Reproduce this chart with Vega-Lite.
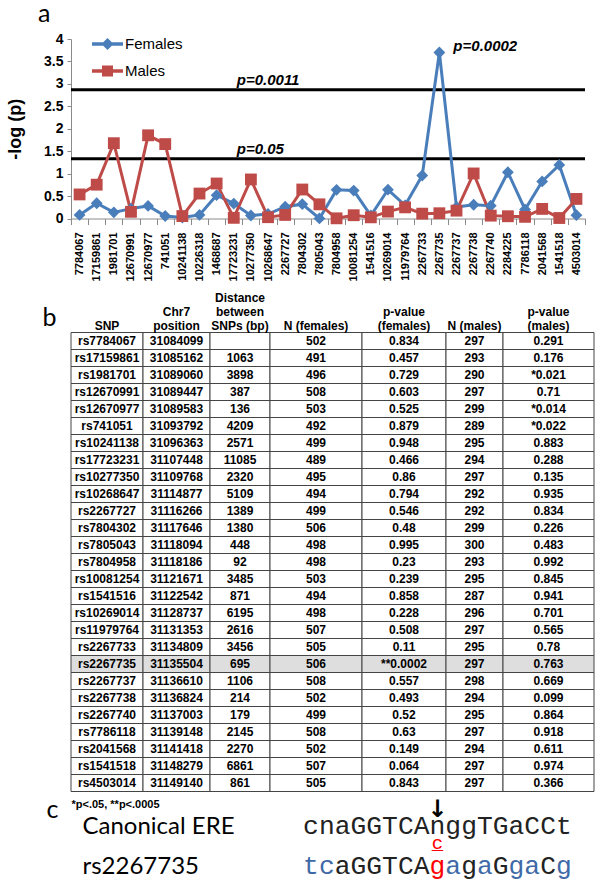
{
  "$schema": "https://vega.github.io/schema/vega-lite/v6.json",
  "autosize": {"type": "none"},
  "padding": {"left": 71, "top": 39, "right": 530, "bottom": 843},
  "background": "white",
  "bounds": "flush",
  "spacing": 113.5,
  "datasets": {
    "chart": [
      {"snp": "7784067", "sex": "Females", "logp": 0.079},
      {"snp": "17159861", "sex": "Females", "logp": 0.340},
      {"snp": "1981701", "sex": "Females", "logp": 0.137},
      {"snp": "12670991", "sex": "Females", "logp": 0.220},
      {"snp": "12670977", "sex": "Females", "logp": 0.280},
      {"snp": "741051", "sex": "Females", "logp": 0.056},
      {"snp": "10241138", "sex": "Females", "logp": 0.023},
      {"snp": "10226318", "sex": "Females", "logp": 0.08},
      {"snp": "1468687", "sex": "Females", "logp": 0.52},
      {"snp": "17723231", "sex": "Females", "logp": 0.332},
      {"snp": "10277350", "sex": "Females", "logp": 0.066},
      {"snp": "10268647", "sex": "Females", "logp": 0.100},
      {"snp": "2267727", "sex": "Females", "logp": 0.263},
      {"snp": "7804302", "sex": "Females", "logp": 0.319},
      {"snp": "7805043", "sex": "Females", "logp": 0.002},
      {"snp": "7804958", "sex": "Females", "logp": 0.638},
      {"snp": "10081254", "sex": "Females", "logp": 0.622},
      {"snp": "1541516", "sex": "Females", "logp": 0.067},
      {"snp": "10269014", "sex": "Females", "logp": 0.642},
      {"snp": "11979764", "sex": "Females", "logp": 0.294},
      {"snp": "2267733", "sex": "Females", "logp": 0.959},
      {"snp": "2267735", "sex": "Females", "logp": 3.699},
      {"snp": "2267737", "sex": "Females", "logp": 0.254},
      {"snp": "2267738", "sex": "Females", "logp": 0.307},
      {"snp": "2267740", "sex": "Females", "logp": 0.284},
      {"snp": "2284225", "sex": "Females", "logp": 1.03},
      {"snp": "7786118", "sex": "Females", "logp": 0.201},
      {"snp": "2041568", "sex": "Females", "logp": 0.827},
      {"snp": "1541518", "sex": "Females", "logp": 1.194},
      {"snp": "4503014", "sex": "Females", "logp": 0.074},
      {"snp": "7784067", "sex": "Males", "logp": 0.536},
      {"snp": "17159861", "sex": "Males", "logp": 0.754},
      {"snp": "1981701", "sex": "Males", "logp": 1.678},
      {"snp": "12670991", "sex": "Males", "logp": 0.149},
      {"snp": "12670977", "sex": "Males", "logp": 1.854},
      {"snp": "741051", "sex": "Males", "logp": 1.658},
      {"snp": "10241138", "sex": "Males", "logp": 0.054},
      {"snp": "10226318", "sex": "Males", "logp": 0.556},
      {"snp": "1468687", "sex": "Males", "logp": 0.78},
      {"snp": "17723231", "sex": "Males", "logp": 0.015},
      {"snp": "10277350", "sex": "Males", "logp": 0.870},
      {"snp": "10268647", "sex": "Males", "logp": 0.029},
      {"snp": "2267727", "sex": "Males", "logp": 0.079},
      {"snp": "7804302", "sex": "Males", "logp": 0.646},
      {"snp": "7805043", "sex": "Males", "logp": 0.316},
      {"snp": "7804958", "sex": "Males", "logp": 0.004},
      {"snp": "10081254", "sex": "Males", "logp": 0.073},
      {"snp": "1541516", "sex": "Males", "logp": 0.026},
      {"snp": "10269014", "sex": "Males", "logp": 0.154},
      {"snp": "11979764", "sex": "Males", "logp": 0.248},
      {"snp": "2267733", "sex": "Males", "logp": 0.108},
      {"snp": "2267735", "sex": "Males", "logp": 0.117},
      {"snp": "2267737", "sex": "Males", "logp": 0.175},
      {"snp": "2267738", "sex": "Males", "logp": 1.004},
      {"snp": "2267740", "sex": "Males", "logp": 0.064},
      {"snp": "2284225", "sex": "Males", "logp": 0.05},
      {"snp": "7786118", "sex": "Males", "logp": 0.037},
      {"snp": "2041568", "sex": "Males", "logp": 0.214},
      {"snp": "1541518", "sex": "Males", "logp": 0.011},
      {"snp": "4503014", "sex": "Males", "logp": 0.436}
    ],
    "thresholds": [
      {"label": "p=0.0011", "logp": 2.87, "snp": "17723231"},
      {"label": "p=0.05", "logp": 1.33, "snp": "17723231"}
    ],
    "peak": [
      {"label": "p=0.0002", "logp": 3.699, "snp": "2267735"}
    ],
    "table": [
      {"snp": "rs7784067", "pos": "31084099", "dist": "", "nf": "502", "pf": "0.834", "nm": "297", "pm": "0.291"},
      {"snp": "rs17159861", "pos": "31085162", "dist": "1063", "nf": "491", "pf": "0.457", "nm": "293", "pm": "0.176"},
      {"snp": "rs1981701", "pos": "31089060", "dist": "3898", "nf": "496", "pf": "0.729", "nm": "290", "pm": "*0.021"},
      {"snp": "rs12670991", "pos": "31089447", "dist": "387", "nf": "508", "pf": "0.603", "nm": "297", "pm": "0.71"},
      {"snp": "rs12670977", "pos": "31089583", "dist": "136", "nf": "503", "pf": "0.525", "nm": "299", "pm": "*0.014"},
      {"snp": "rs741051", "pos": "31093792", "dist": "4209", "nf": "492", "pf": "0.879", "nm": "289", "pm": "*0.022"},
      {"snp": "rs10241138", "pos": "31096363", "dist": "2571", "nf": "499", "pf": "0.948", "nm": "295", "pm": "0.883"},
      {"snp": "rs17723231", "pos": "31107448", "dist": "11085", "nf": "489", "pf": "0.466", "nm": "294", "pm": "0.288"},
      {"snp": "rs10277350", "pos": "31109768", "dist": "2320", "nf": "495", "pf": "0.86", "nm": "297", "pm": "0.135"},
      {"snp": "rs10268647", "pos": "31114877", "dist": "5109", "nf": "494", "pf": "0.794", "nm": "292", "pm": "0.935"},
      {"snp": "rs2267727", "pos": "31116266", "dist": "1389", "nf": "499", "pf": "0.546", "nm": "292", "pm": "0.834"},
      {"snp": "rs7804302", "pos": "31117646", "dist": "1380", "nf": "506", "pf": "0.48", "nm": "299", "pm": "0.226"},
      {"snp": "rs7805043", "pos": "31118094", "dist": "448", "nf": "498", "pf": "0.995", "nm": "300", "pm": "0.483"},
      {"snp": "rs7804958", "pos": "31118186", "dist": "92", "nf": "498", "pf": "0.23", "nm": "293", "pm": "0.992"},
      {"snp": "rs10081254", "pos": "31121671", "dist": "3485", "nf": "503", "pf": "0.239", "nm": "295", "pm": "0.845"},
      {"snp": "rs1541516", "pos": "31122542", "dist": "871", "nf": "494", "pf": "0.858", "nm": "287", "pm": "0.941"},
      {"snp": "rs10269014", "pos": "31128737", "dist": "6195", "nf": "498", "pf": "0.228", "nm": "296", "pm": "0.701"},
      {"snp": "rs11979764", "pos": "31131353", "dist": "2616", "nf": "507", "pf": "0.508", "nm": "297", "pm": "0.565"},
      {"snp": "rs2267733", "pos": "31134809", "dist": "3456", "nf": "505", "pf": "0.11", "nm": "295", "pm": "0.78"},
      {"snp": "rs2267735", "pos": "31135504", "dist": "695", "nf": "506", "pf": "**0.0002", "nm": "297", "pm": "0.763"},
      {"snp": "rs2267737", "pos": "31136610", "dist": "1106", "nf": "508", "pf": "0.557", "nm": "298", "pm": "0.669"},
      {"snp": "rs2267738", "pos": "31136824", "dist": "214", "nf": "502", "pf": "0.493", "nm": "294", "pm": "0.099"},
      {"snp": "rs2267740", "pos": "31137003", "dist": "179", "nf": "499", "pf": "0.52", "nm": "295", "pm": "0.864"},
      {"snp": "rs7786118", "pos": "31139148", "dist": "2145", "nf": "508", "pf": "0.63", "nm": "297", "pm": "0.918"},
      {"snp": "rs2041568", "pos": "31141418", "dist": "2270", "nf": "502", "pf": "0.149", "nm": "294", "pm": "0.611"},
      {"snp": "rs1541518", "pos": "31148279", "dist": "6861", "nf": "507", "pf": "0.064", "nm": "297", "pm": "0.974"},
      {"snp": "rs4503014", "pos": "31149140", "dist": "861", "nf": "505", "pf": "0.843", "nm": "297", "pm": "0.366"}
    ],
    "seq": [
      {"row": "Canonical ERE", "i": 1, "ch": "c", "tone": "plain"},
      {"row": "Canonical ERE", "i": 2, "ch": "n", "tone": "plain"},
      {"row": "Canonical ERE", "i": 3, "ch": "a", "tone": "plain"},
      {"row": "Canonical ERE", "i": 4, "ch": "G", "tone": "plain"},
      {"row": "Canonical ERE", "i": 5, "ch": "G", "tone": "plain"},
      {"row": "Canonical ERE", "i": 6, "ch": "T", "tone": "plain"},
      {"row": "Canonical ERE", "i": 7, "ch": "C", "tone": "plain"},
      {"row": "Canonical ERE", "i": 8, "ch": "A", "tone": "plain"},
      {"row": "Canonical ERE", "i": 9, "ch": "n", "tone": "plain"},
      {"row": "Canonical ERE", "i": 10, "ch": "g", "tone": "plain"},
      {"row": "Canonical ERE", "i": 11, "ch": "g", "tone": "plain"},
      {"row": "Canonical ERE", "i": 12, "ch": "T", "tone": "plain"},
      {"row": "Canonical ERE", "i": 13, "ch": "G", "tone": "plain"},
      {"row": "Canonical ERE", "i": 14, "ch": "a", "tone": "plain"},
      {"row": "Canonical ERE", "i": 15, "ch": "C", "tone": "plain"},
      {"row": "Canonical ERE", "i": 16, "ch": "C", "tone": "plain"},
      {"row": "Canonical ERE", "i": 17, "ch": "t", "tone": "plain"},
      {"row": "rs2267735", "i": 1, "ch": "t", "tone": "mm"},
      {"row": "rs2267735", "i": 2, "ch": "c", "tone": "mm"},
      {"row": "rs2267735", "i": 3, "ch": "a", "tone": "plain"},
      {"row": "rs2267735", "i": 4, "ch": "G", "tone": "plain"},
      {"row": "rs2267735", "i": 5, "ch": "G", "tone": "plain"},
      {"row": "rs2267735", "i": 6, "ch": "T", "tone": "plain"},
      {"row": "rs2267735", "i": 7, "ch": "C", "tone": "plain"},
      {"row": "rs2267735", "i": 8, "ch": "A", "tone": "plain"},
      {"row": "rs2267735", "i": 9, "ch": "g", "tone": "snp"},
      {"row": "rs2267735", "i": 10, "ch": "a", "tone": "mm"},
      {"row": "rs2267735", "i": 11, "ch": "g", "tone": "plain"},
      {"row": "rs2267735", "i": 12, "ch": "a", "tone": "mm"},
      {"row": "rs2267735", "i": 13, "ch": "G", "tone": "plain"},
      {"row": "rs2267735", "i": 14, "ch": "g", "tone": "mm"},
      {"row": "rs2267735", "i": 15, "ch": "a", "tone": "mm"},
      {"row": "rs2267735", "i": 16, "ch": "C", "tone": "plain"},
      {"row": "rs2267735", "i": 17, "ch": "g", "tone": "mm"}
    ],
    "arrow": [{"row": "Canonical ERE", "i": 9, "ch": "↓"}],
    "variant": [
      {"row": "rs2267735", "i": 9, "ch": "c"},
      {"row": "rs2267735", "i": 9, "ch": "_"}
    ]
  },
  "vconcat": [
    {
      "width": 514,
      "height": 179.5,
      "title": {"text": "a", "anchor": "start", "frame": "group", "font": "Lato", "fontSize": 25, "fontWeight": "normal", "color": "black", "dx": -33, "dy": 26, "offset": 6, "baseline": "bottom"},
      "encoding": {
        "y": {
          "field": "logp", "type": "quantitative",
          "scale": {"domain": [0, 4], "nice": false, "zero": true},
          "axis": {
            "title": "-log (p)", "values": [0, 0.5, 1, 1.5, 2, 2.5, 3, 3.5, 4], "format": ".1~f", "grid": false, "labelOverlap": false,
            "labelFont": "Liberation Sans", "labelFontSize": 14, "labelFontWeight": "bold", "labelColor": "black", "labelPadding": 4,
            "tickSize": 4, "tickColor": "#8a8a8a", "domainColor": "#8a8a8a",
            "titleFont": "Liberation Sans", "titleFontSize": 18, "titleFontWeight": "bold", "titleColor": "black",
            "titleX": -56, "titleY": 89.75, "titleAngle": 270, "titleAlign": "center", "titleBaseline": "middle"
          }
        }
      },
      "layer": [
        {
          "data": {"name": "thresholds"},
          "mark": {"type": "rule", "color": "black", "strokeWidth": 3}
        },
        {
          "data": {"name": "thresholds"},
          "mark": {"type": "text", "align": "left", "baseline": "alphabetic", "dx": 3, "dy": -5, "font": "Liberation Sans", "fontSize": 15, "fontWeight": "bold", "fontStyle": "italic", "color": "black"},
          "encoding": {
            "x": {"field": "snp", "type": "nominal"},
            "text": {"field": "label", "type": "nominal"}
          }
        },
        {
          "data": {"name": "chart"},
          "mark": {"type": "line", "strokeWidth": 3},
          "encoding": {
            "x": {
              "field": "snp", "type": "nominal", "sort": null,
              "scale": {"type": "band", "paddingInner": 0, "paddingOuter": 0, "domain": ["7784067","17159861","1981701","12670991","12670977","741051","10241138","10226318","1468687","17723231","10277350","10268647","2267727","7804302","7805043","7804958","10081254","1541516","10269014","11979764","2267733","2267735","2267737","2267738","2267740","2284225","7786118","2041568","1541518","4503014"]},
              "axis": {
                "title": "b", "labelAngle": 270, "labelFont": "Liberation Sans", "labelFontSize": 11, "labelFontWeight": "bold", "labelColor": "black", "labelPadding": 7.5, "labelOverlap": false, "labelLimit": 0,
                "tickSize": 6, "tickBand": "extent", "tickColor": "#8a8a8a", "domainColor": "#8a8a8a", "grid": false,
                "titleX": -29, "titleY": 106.5, "titleAngle": 0, "titleAlign": "left", "titleBaseline": "alphabetic", "titleFont": "Lato", "titleFontSize": 25, "titleFontWeight": "normal", "titleColor": "black"
              }
            },
            "stroke": {"field": "sex", "type": "nominal", "scale": {"range": ["#4a7ebb", "#be4b48"]}, "legend": null}
          }
        },
        {
          "data": {"name": "chart"},
          "transform": [{"filter": "datum.sex === 'Females'"}],
          "mark": {"type": "point", "shape": "diamond", "filled": true, "size": 140, "color": "#4a7ebb", "opacity": 1},
          "encoding": {
            "x": {"field": "snp", "type": "nominal", "sort": null}
          }
        },
        {
          "data": {"name": "chart"},
          "transform": [{"filter": "datum.sex === 'Males'"}],
          "mark": {"type": "point", "shape": "square", "filled": true, "size": 140, "color": "#be4b48", "opacity": 1},
          "encoding": {
            "x": {"field": "snp", "type": "nominal", "sort": null}
          }
        },
        {
          "data": {"name": "peak"},
          "mark": {"type": "text", "align": "left", "baseline": "alphabetic", "dx": 14, "dy": -2, "font": "Liberation Sans", "fontSize": 15, "fontWeight": "bold", "fontStyle": "italic", "color": "black"},
          "encoding": {
            "x": {"field": "snp", "type": "nominal"},
            "text": {"field": "label", "type": "nominal"}
          }
        },
        {
          "data": {"name": "chart"},
          "transform": [{"filter": "datum.sex === 'none'"}],
          "mark": {"type": "point", "filled": true, "strokeWidth": 0, "size": 240},
          "encoding": {
            "x": {"field": "snp", "type": "nominal", "sort": null},
            "fill": {
              "field": "sex", "type": "nominal",
              "scale": {"domain": ["Females", "Males"], "range": ["#4a7ebb", "#be4b48"]},
              "legend": {"orient": "none", "legendX": 28.5, "legendY": -3, "title": null, "padding": 0, "symbolSize": 240, "symbolStrokeWidth": 0, "symbolOpacity": 1, "labelFont": "Liberation Sans", "labelFontSize": 15, "labelColor": "black", "labelOffset": 9.5, "rowPadding": 11}
            },
            "shape": {
              "field": "sex", "type": "nominal",
              "scale": {"domain": ["Females", "Males"], "range": ["M-2,-0.226H2V0.226H-2ZM0,-0.78L0.78,0L0,0.78L-0.78,0Z", "M-2,-0.226H2V0.226H-2ZM-0.71,-0.71H0.71V0.71H-0.71Z"]},
              "legend": {"orient": "none", "legendX": 28.5, "legendY": -3, "title": null, "padding": 0, "symbolSize": 240, "symbolStrokeWidth": 0, "symbolOpacity": 1, "labelFont": "Liberation Sans", "labelFontSize": 15, "labelColor": "black", "labelOffset": 9.5, "rowPadding": 11}
            }
          }
        }
      ]
    },
    {
      "bounds": "flush",
      "spacing": 501,
      "vconcat": [
        {
          "bounds": "flush",
          "spacing": 0,
          "hconcat": [
            {
              "width": 72, "height": 459,
              "title": {"text": "SNP", "anchor": "middle", "frame": "group", "font": "Liberation Sans", "fontSize": 12, "fontWeight": "bold", "color": "black", "lineHeight": 14, "baseline": "bottom", "offset": 1, "dy": 14},
              "data": {"name": "table"},
              "encoding": {"y": {"field": "snp", "type": "nominal", "sort": null, "axis": null, "scale": {"paddingInner": 0, "paddingOuter": 0}}},
              "layer": [
                {"mark": {"type": "rect", "stroke": "#444444", "strokeWidth": 1}, "encoding": {"fill": {"condition": {"test": "datum.snp === 'rs2267735'", "value": "#dedede"}, "value": "white"}}},
                {"mark": {"type": "text", "font": "Liberation Sans", "fontSize": 12, "fontWeight": "bold", "color": "black"}, "encoding": {"text": {"field": "snp", "type": "nominal"}}}
              ]
            },
            {
              "width": 67, "height": 459,
              "title": {"text": ["Chr7", "position"], "anchor": "middle", "frame": "group", "font": "Liberation Sans", "fontSize": 12, "fontWeight": "bold", "color": "black", "lineHeight": 14, "baseline": "bottom", "offset": 1, "dy": 14},
              "data": {"name": "table"},
              "encoding": {"y": {"field": "snp", "type": "nominal", "sort": null, "axis": null, "scale": {"paddingInner": 0, "paddingOuter": 0}}},
              "layer": [
                {"mark": {"type": "rect", "stroke": "#444444", "strokeWidth": 1}, "encoding": {"fill": {"condition": {"test": "datum.snp === 'rs2267735'", "value": "#dedede"}, "value": "white"}}},
                {"mark": {"type": "text", "font": "Liberation Sans", "fontSize": 12, "fontWeight": "bold", "color": "black"}, "encoding": {"text": {"field": "pos", "type": "nominal"}}}
              ]
            },
            {
              "width": 60, "height": 459,
              "title": {"text": ["Distance", "between", "SNPs  (bp)"], "anchor": "middle", "frame": "group", "font": "Liberation Sans", "fontSize": 12, "fontWeight": "bold", "color": "black", "lineHeight": 14, "baseline": "bottom", "offset": 1, "dy": 14},
              "data": {"name": "table"},
              "encoding": {"y": {"field": "snp", "type": "nominal", "sort": null, "axis": null, "scale": {"paddingInner": 0, "paddingOuter": 0}}},
              "layer": [
                {"mark": {"type": "rect", "stroke": "#444444", "strokeWidth": 1}, "encoding": {"fill": {"condition": {"test": "datum.snp === 'rs2267735'", "value": "#dedede"}, "value": "white"}}},
                {"mark": {"type": "text", "font": "Liberation Sans", "fontSize": 12, "fontWeight": "bold", "color": "black"}, "encoding": {"text": {"field": "dist", "type": "nominal"}}}
              ]
            },
            {
              "width": 92, "height": 459,
              "title": {"text": "N (females)", "anchor": "middle", "frame": "group", "font": "Liberation Sans", "fontSize": 12, "fontWeight": "bold", "color": "black", "lineHeight": 14, "baseline": "bottom", "offset": 1, "dy": 14},
              "data": {"name": "table"},
              "encoding": {"y": {"field": "snp", "type": "nominal", "sort": null, "axis": null, "scale": {"paddingInner": 0, "paddingOuter": 0}}},
              "layer": [
                {"mark": {"type": "rect", "stroke": "#444444", "strokeWidth": 1}, "encoding": {"fill": {"condition": {"test": "datum.snp === 'rs2267735'", "value": "#dedede"}, "value": "white"}}},
                {"mark": {"type": "text", "font": "Liberation Sans", "fontSize": 12, "fontWeight": "bold", "color": "black"}, "encoding": {"text": {"field": "nf", "type": "nominal"}}}
              ]
            },
            {
              "width": 84, "height": 459,
              "title": {"text": ["p-value", "(females)"], "anchor": "middle", "frame": "group", "font": "Liberation Sans", "fontSize": 12, "fontWeight": "bold", "color": "black", "lineHeight": 14, "baseline": "bottom", "offset": 1, "dy": 14},
              "data": {"name": "table"},
              "encoding": {"y": {"field": "snp", "type": "nominal", "sort": null, "axis": null, "scale": {"paddingInner": 0, "paddingOuter": 0}}},
              "layer": [
                {"mark": {"type": "rect", "stroke": "#444444", "strokeWidth": 1}, "encoding": {"fill": {"condition": {"test": "datum.snp === 'rs2267735'", "value": "#dedede"}, "value": "white"}}},
                {"mark": {"type": "text", "font": "Liberation Sans", "fontSize": 12, "fontWeight": "bold", "color": "black"}, "encoding": {"text": {"field": "pf", "type": "nominal"}}}
              ]
            },
            {
              "width": 57, "height": 459,
              "title": {"text": "N (males)", "anchor": "middle", "frame": "group", "font": "Liberation Sans", "fontSize": 12, "fontWeight": "bold", "color": "black", "lineHeight": 14, "baseline": "bottom", "offset": 1, "dy": 14},
              "data": {"name": "table"},
              "encoding": {"y": {"field": "snp", "type": "nominal", "sort": null, "axis": null, "scale": {"paddingInner": 0, "paddingOuter": 0}}},
              "layer": [
                {"mark": {"type": "rect", "stroke": "#444444", "strokeWidth": 1}, "encoding": {"fill": {"condition": {"test": "datum.snp === 'rs2267735'", "value": "#dedede"}, "value": "white"}}},
                {"mark": {"type": "text", "font": "Liberation Sans", "fontSize": 12, "fontWeight": "bold", "color": "black"}, "encoding": {"text": {"field": "nm", "type": "nominal"}}}
              ]
            },
            {
              "width": 91, "height": 459,
              "title": {"text": ["p-value", "(males)"], "anchor": "middle", "frame": "group", "font": "Liberation Sans", "fontSize": 12, "fontWeight": "bold", "color": "black", "lineHeight": 14, "baseline": "bottom", "offset": 1, "dy": 14},
              "data": {"name": "table"},
              "encoding": {"y": {"field": "snp", "type": "nominal", "sort": null, "axis": null, "scale": {"paddingInner": 0, "paddingOuter": 0}}},
              "layer": [
                {"mark": {"type": "rect", "stroke": "#444444", "strokeWidth": 1}, "encoding": {"fill": {"condition": {"test": "datum.snp === 'rs2267735'", "value": "#dedede"}, "value": "white"}}},
                {"mark": {"type": "text", "font": "Liberation Sans", "fontSize": 12, "fontWeight": "bold", "color": "black"}, "encoding": {"text": {"field": "pm", "type": "nominal"}}}
              ]
            }
          ]
        },
        {
          "width": 523,
          "height": 40,
          "encoding": {
            "x": {
              "field": "i", "type": "quantitative",
              "scale": {"domain": [-14.19, 18.91], "nice": false, "zero": false},
              "axis": {"orient": "top", "labels": false, "ticks": false, "domain": false, "grid": false, "title": "*p<.05, **p<.0005", "titleX": 0, "titleY": -26, "titleAngle": 0, "titleAlign": "left", "titleBaseline": "alphabetic", "titleFont": "Liberation Sans", "titleFontSize": 11, "titleFontWeight": "bold", "titleColor": "black"}
            },
            "y": {
              "field": "row", "type": "nominal",
              "scale": {"type": "point", "padding": 0, "domain": ["Canonical ERE", "rs2267735"]},
              "axis": {"labelAlign": "left", "labelPadding": -11, "ticks": false, "tickSize": 0, "domain": false, "grid": false, "labelFont": "Lato", "labelFontSize": 24, "labelColor": "black", "labelBaseline": "alphabetic", "labelLimit": 0, "title": "c", "titleX": -25, "titleY": -16, "titleAngle": 0, "titleAlign": "left", "titleBaseline": "alphabetic", "titleFont": "Lato", "titleFontSize": 25, "titleFontWeight": "normal", "titleColor": "black"}
            }
          },
          "layer": [
            {
              "data": {"name": "seq"},
              "mark": {"type": "text", "font": "Liberation Mono", "fontSize": 26.3, "baseline": "alphabetic", "align": "center"},
              "encoding": {
                "text": {"field": "ch", "type": "nominal"},
                "color": {"field": "tone", "type": "nominal", "scale": {"domain": ["plain", "mm", "snp"], "range": ["#222222", "#3f6aa7", "#ff0000"]}, "legend": null}
              }
            },
            {
              "data": {"name": "arrow"},
              "mark": {"type": "text", "font": "DejaVu Sans", "fontSize": 24, "fontWeight": "bold", "baseline": "alphabetic", "align": "center", "dy": -17, "color": "black"},
              "encoding": {"text": {"field": "ch", "type": "nominal"}}
            },
            {
              "data": {"name": "variant"},
              "mark": {"type": "text", "font": "Liberation Mono", "fontSize": 19, "baseline": "alphabetic", "align": "center", "dy": -25, "color": "#ff0000"},
              "encoding": {"text": {"field": "ch", "type": "nominal"}}
            }
          ]
        }
      ]
    }
  ],
  "config": {
    "view": {"stroke": null},
    "font": "Liberation Sans",
    "axisY": {"labelOverlap": false}
  }
}
